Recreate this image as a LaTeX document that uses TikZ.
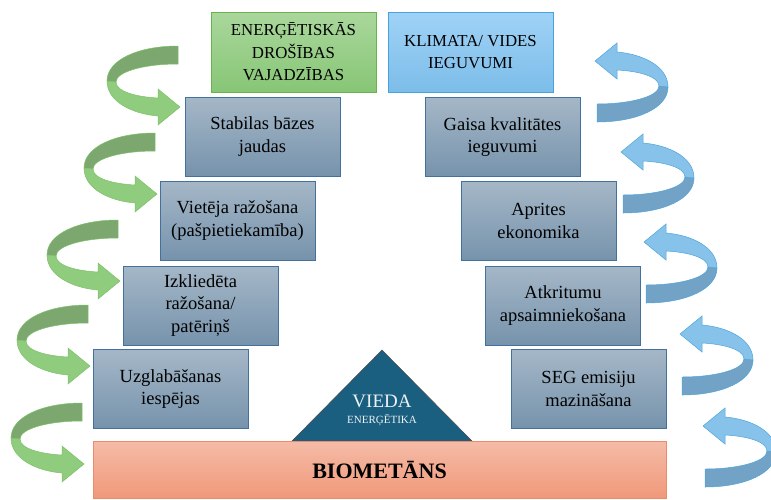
\documentclass[tikz,border=0pt]{standalone}
\usepackage{fontspec}
\setmainfont{Liberation Serif}
\usetikzlibrary{shapes.geometric}

\definecolor{stepTop}{HTML}{A5B7C7}
\definecolor{stepBot}{HTML}{7693AC}
\definecolor{stepLine}{HTML}{41719C}
\definecolor{greenTop}{HTML}{AAD79C}
\definecolor{greenBot}{HTML}{87C676}
\definecolor{greenLine}{HTML}{6AB24F}
\definecolor{blueTop}{HTML}{A0D2F6}
\definecolor{blueBot}{HTML}{7CBDE9}
\definecolor{blueLine}{HTML}{45A3DD}
\definecolor{baseTop}{HTML}{F5BBA7}
\definecolor{baseBot}{HTML}{F09879}
\definecolor{baseLine}{HTML}{EC8B6B}
\definecolor{smartFill}{HTML}{1B5F80}
\definecolor{curlGreenDark}{HTML}{7CA870}
\definecolor{curlGreenLight}{HTML}{8FCC7D}
\definecolor{curlGreenLine}{HTML}{7DC168}
\definecolor{curlBlueDark}{HTML}{72A2C6}
\definecolor{curlBlueLight}{HTML}{86C2EA}
\definecolor{curlBlueLine}{HTML}{4DA5DC}

\tikzset{
  stepbox/.style={draw=stepLine, line width=0.8pt, top color=stepTop, bottom color=stepBot,
    minimum width=155pt, minimum height=79pt, inner sep=2pt, align=center,
    font=\fontsize{18.5}{22.5}\selectfont},
  goalbox/.style={stepbox, minimum width=165pt, minimum height=80pt,
    font=\fontsize{16.8}{22.5}\selectfont},
  pics/curl/.style n args={3}{code={
    % back side of the ribbon
    \filldraw[fill=#1, draw=#3, line width=0.5pt] (0,0) .. controls (-40,0) and (-71,14) .. (-71,35)
      -- (-62,36) .. controls (-62,26) and (-35,18) .. (0,18) -- cycle;
    % front side with the head
    \filldraw[fill=#2, draw=#3, line width=0.5pt] (-71,35) .. controls (-71,56) and (-45,68) .. (-20,70)
      -- (-20,79) -- (2,61) -- (-20,43) -- (-20,52) .. controls (-40,51) and (-62,46) .. (-62,36) -- cycle;
  }}
}

\begin{document}
\begin{tikzpicture}[x=1pt,y=1pt,yscale=-1,xscale=1]
  \useasboundingbox (0,0) rectangle (771,499);

  % top headers
  \node[goalbox, draw=greenLine, top color=greenTop, bottom color=greenBot] (security) at (293.5,52)
    {ENERĢĒTISKĀS\\DROŠĪBAS\\VAJADZĪBAS};
  \node[goalbox, draw=blueLine, top color=blueTop, bottom color=blueBot] (climate) at (470.5,52)
    {KLIMATA/ VIDES\\IEGUVUMI};

  % left steps
  \node[stepbox] (baseload) at (262.5,136.5) {Stabilas bāzes\\jaudas};
  \node[stepbox] (local) at (237.5,220.5) {Vietēja ražošana\\(pašpietiekamība)};
  \node[stepbox] (distributed) at (200.5,305.5) {Izkliedēta\\ražošana/\\patēriņš};
  \node[stepbox] (storage) at (170.5,389) {Uzglabāšanas\\iespējas};

  % right steps
  \node[stepbox] (air) at (502.5,137) {Gaisa kvalitātes\\ieguvumi};
  \node[stepbox] (circular) at (538.5,221) {Aprites\\ekonomika};
  \node[stepbox] (waste) at (563,305.5) {Atkritumu\\apsaimniekošana};
  \node[stepbox] (ghg) at (588.5,389) {SEG emisiju\\mazināšana};

  % smart energy triangle
  \filldraw[fill=smartFill, draw=black!70, line width=0.5pt] (292,441) -- (382,350) -- (472,441) -- cycle;
  \node[text=white!92!smartFill, font=\fontsize{19}{22}\selectfont] (smart) at (382,401) {VIEDA};
  \node[text=white!92!smartFill, font=\fontsize{11}{13}\selectfont] (smartsub) at (382,420) {ENERĢĒTIKA};

  % base
  \node[draw=baseLine, line width=0.8pt, top color=baseTop, bottom color=baseBot,
    minimum width=573pt, minimum height=57pt, font=\fontsize{22}{26}\selectfont\bfseries]
    (biomethane) at (379.5,470) {BIOMETĀNS};

  % green curls
  \foreach \x/\y in {178/46, 155/133, 118/220, 88/305, 82/403}
    \pic[transform shape] at (\x,\y) {curl={curlGreenDark}{curlGreenLight}{curlGreenLine}};

  % blue curls
  \foreach \x/\y in {597/122, 623/213, 646/303, 682/395, 705/487}
    \pic[transform shape, rotate=180] at (\x,\y) {curl={curlBlueDark}{curlBlueLight}{curlBlueLine}};
\end{tikzpicture}
\end{document}
